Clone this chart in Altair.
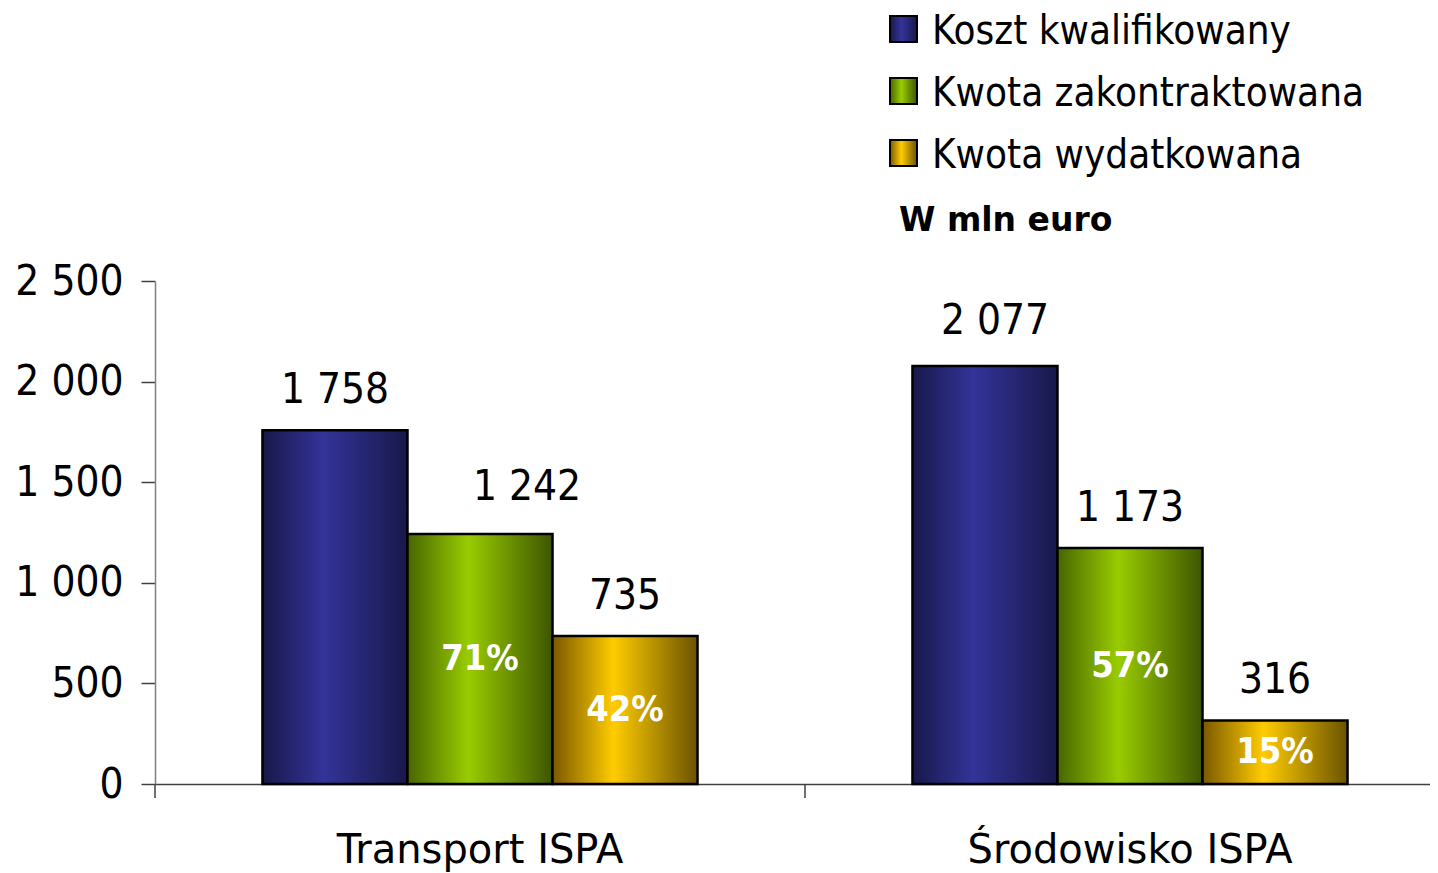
import altair as alt
import pandas as pd

# ---- data ----
categories = ["Transport ISPA", "Środowisko ISPA"]
series = ["Koszt kwalifikowany", "Kwota zakontraktowana", "Kwota wydatkowana"]
koszt_kwalifikowany = [1758, 2077]
kwota_zakontraktowana = [1242, 1173]
kwota_wydatkowana = [735, 316]
pct_zakontraktowana = ["71%", "57%"]
pct_wydatkowana = ["42%", "15%"]
y_ticks = [0, 500, 1000, 1500, 2000, 2500]
unit_label = "W mln euro"

rows = []
for i, c in enumerate(categories):
    rows.append({"cat": c, "series": series[0], "value": koszt_kwalifikowany[i], "pct": ""})
    rows.append({"cat": c, "series": series[1], "value": kwota_zakontraktowana[i], "pct": pct_zakontraktowana[i]})
    rows.append({"cat": c, "series": series[2], "value": kwota_wydatkowana[i], "pct": pct_wydatkowana[i]})
df = pd.DataFrame(rows)

# ---- styles ----
W, H = 1275, 503
FONT = "DejaVu Sans Condensed"
# label nudges (dx, dy) in pixels, as placed in the original chart
label_nudge = {
    (categories[0], series[1]): (47, -34),
    (categories[1], series[0]): (10, -32),
}
default_nudge = (0, -27)


def grad(dark_l, bright, dark_r):
    return {
        "gradient": "linear", "x1": 0, "y1": 0, "x2": 1, "y2": 0,
        "stops": [
            {"offset": 0, "color": dark_l},
            {"offset": 0.42, "color": bright},
            {"offset": 1, "color": dark_r},
        ],
    }


fills = {
    series[0]: grad("#18184a", "#333399", "#18184a"),
    series[1]: grad("#476600", "#99cc00", "#3d5500"),
    series[2]: grad("#7a5800", "#ffcc00", "#6b5300"),
}

x_scale = alt.Scale(domain=categories, range=[0, 1300], paddingInner=0, paddingOuter=0)
x_axis = alt.Axis(title=None, ticks=False, labelFontSize=40, labelFont="DejaVu Sans", labelColor="black",
                  labelAngle=0, labelBaseline="alphabetic", labelPadding=78, labelLimit=0,
                  domainColor="#404040", domainWidth=1.5, labelOverlap=False)
X = alt.X("cat:N", sort=categories, scale=x_scale, axis=x_axis)
XO = alt.XOffset("series:N", sort=series,
                 scale=alt.Scale(domain=series, paddingOuter=0.741, paddingInner=0))
y_scale = alt.Scale(domain=[0, 2500], nice=False, zero=True)
y_axis = alt.Axis(title=None, values=y_ticks, grid=False,
                  labelExpr="replace(format(datum.value, ','), ',', ' ')",
                  labelFontSize=42, labelFont=FONT, labelColor="black", labelPadding=18,
                  tickSize=14, tickColor="#404040", tickWidth=1.5,
                  domainColor="#808080", domainWidth=1.5)
Y = alt.Y("value:Q", scale=y_scale, axis=y_axis)

layers = []
for s in series:
    layers.append(
        alt.Chart(df).transform_filter(alt.datum.series == s)
        .mark_bar(fill=fills[s], stroke="black", strokeWidth=2.5)
        .encode(x=X, xOffset=XO, y=Y)
    )

text_layers = []
for c in categories:
    for s in series:
        dx, dy = label_nudge.get((c, s), default_nudge)
        text_layers.append(
            alt.Chart(df)
            .transform_filter((alt.datum.cat == c) & (alt.datum.series == s))
            .transform_calculate(label="replace(format(datum.value, ','), ',', ' ')")
            .mark_text(font=FONT, fontSize=42, color="black", baseline="alphabetic", dx=dx, dy=dy)
            .encode(x=X, xOffset=XO, y=Y, text="label:N")
        )

pct_text = (
    alt.Chart(df)
    .transform_filter(alt.datum.pct != "")
    .transform_calculate(mid="datum.value / 2")
    .mark_text(font=FONT, fontSize=36, fontWeight="bold", color="white", baseline="middle")
    .encode(x=X, xOffset=XO, y=alt.Y("mid:Q", scale=y_scale, axis=y_axis), text="pct:N")
)
cat_ticks = (
    alt.Chart(pd.DataFrame({"cat": categories}))
    .mark_rule(color="#404040", strokeWidth=1.5)
    .encode(x=alt.X("cat:N", sort=categories, scale=x_scale, axis=x_axis, bandPosition=0),
            y=alt.value(H), y2=alt.value(H + 14))
)

# ---- legend (drawn manually so symbols carry the same gradients) ----
leg_x0, leg_x1 = 735, 762
leg_rows_y = [-252, -190, -128]
legend_layers = []
for s, yc in zip(series, leg_rows_y):
    d = pd.DataFrame({"series": [s]})
    legend_layers.append(
        alt.Chart(d).mark_rect(fill=fills[s], stroke="black", strokeWidth=2)
        .encode(x=alt.value(leg_x0), x2=alt.value(leg_x1), y=alt.value(yc - 13), y2=alt.value(yc + 13))
    )
    legend_layers.append(
        alt.Chart(d).mark_text(font=FONT, fontSize=40, color="black", align="left", baseline="alphabetic")
        .encode(x=alt.value(777), y=alt.value(yc + 15), text="series:N")
    )
unit_text = (
    alt.Chart(pd.DataFrame({"t": [unit_label]}))
    .mark_text(font="DejaVu Sans", fontSize=33, fontWeight="bold", color="black", align="left",
               baseline="alphabetic")
    .encode(x=alt.value(744), y=alt.value(-50), text="t:N")
)

chart = alt.layer(*layers, *text_layers, pct_text, cat_ticks, *legend_layers, unit_text).properties(
    width=W, height=H,
    background="white",
    autosize=alt.AutoSizeParams(type="none"),
    padding={"left": 147, "top": 273, "right": 0, "bottom": 89},
).configure_view(stroke=None)

chart.save("out.html", embed_options={"renderer": "svg", "actions": False})
